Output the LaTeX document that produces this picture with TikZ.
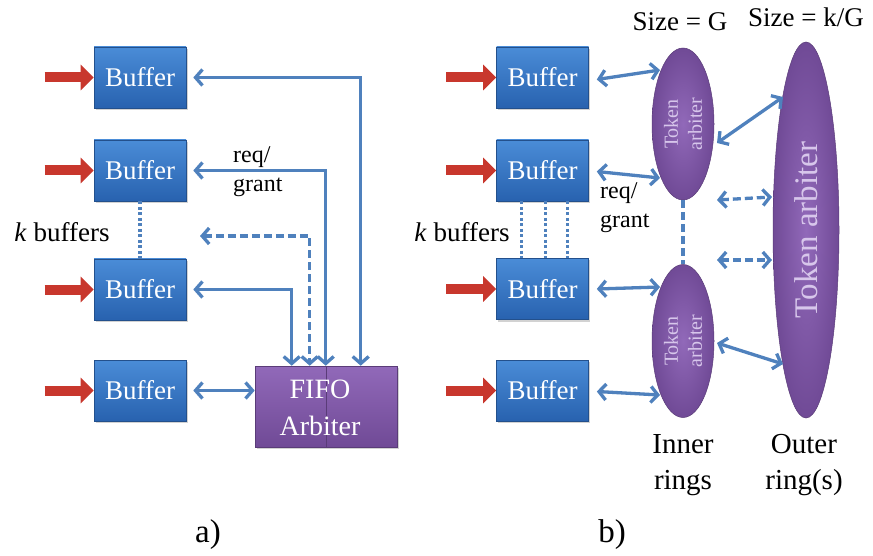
\documentclass[tikz,border=0pt]{standalone}
\usepackage{fontspec}
\setmainfont{Liberation Serif}
\usetikzlibrary{arrows.meta,calc,shapes.geometric,shadows}
\definecolor{bufblueL}{RGB}{74,140,215}
\definecolor{bufblueD}{RGB}{40,98,175}
\definecolor{bufedge}{RGB}{35,80,140}
\definecolor{linkblue}{RGB}{79,129,189}
\definecolor{arbL}{RGB}{145,105,185}
\definecolor{arbD}{RGB}{112,74,150}
\definecolor{arbedge}{RGB}{90,60,120}
\definecolor{inred}{RGB}{200,55,45}
\definecolor{tokentext}{RGB}{215,198,235}
\begin{document}
\begin{tikzpicture}[x=1pt,y=-1pt,
  buf/.style={draw=bufedge, line width=0.6pt, top color=bufblueL, bottom color=bufblueD,
    minimum width=92pt, minimum height=61pt, inner sep=0pt, text=white,
    font=\fontsize{27}{29}\selectfont,
    drop shadow={shadow xshift=1.5pt, shadow yshift=-2pt, opacity=0.35}},
  inarrow/.style={draw=inred, line width=10pt, -{Triangle[length=13pt,width=25pt]}},
  link/.style={draw=linkblue, line width=3.3pt,
    {Straight Barb[length=7pt,width=16pt]}-{Straight Barb[length=7pt,width=16pt]}},
  dlink/.style={link, dash pattern=on 8pt off 4pt},
  dots/.style={draw=linkblue, line width=3.3pt, dash pattern=on 3pt off 2.5pt},
  lbl/.style={text=black, inner sep=0pt},
  arb/.style={ellipse, draw=arbedge, line width=0.5pt, inner color=arbL, outer color=arbD,
    inner sep=0pt, rotate=90},
]
\useasboundingbox[fill=white] (0,0) rectangle (873,556);

% ---------- panel a ----------
\node[buf] (a1) at (140,77.5) {Buffer};
\node[buf] (a2) at (140,170.5) {Buffer};
\node[buf] (a3) at (140,289.5) {Buffer};
\node[buf] (a4) at (140,390.5) {Buffer};
\foreach \n in {a1,a2,a3,a4}{
  \draw[inarrow] ($(\n.west)+(-49,0)$) -- (\n.west);
}
\node[draw=arbedge, line width=0.6pt, top color=arbL, bottom color=arbD,
  minimum width=142pt, minimum height=81pt, inner sep=0pt,
  drop shadow={shadow xshift=1.5pt, shadow yshift=-2pt, opacity=0.35}] (fifo) at (326,406.5) {};
\draw[arbedge, line width=0.6pt] (fifo.north) -- (fifo.south);
\node[lbl, text=white, align=center, font=\fontsize{28}{37}\selectfont] (fifotxt) at (320,408) {FIFO\\Arbiter};

\draw[link] ([xshift=7pt]a1.east) -| ([xshift=106pt]fifo.north west);
\draw[link] ([xshift=7pt]a2.east) -| ([xshift=71pt]fifo.north west);
\coordinate (dfree) at (200,236);
\draw[dlink] (dfree) -| ([xshift=55pt]fifo.north west);
\draw[link] ([xshift=7pt]a3.east) -| ([xshift=37pt]fifo.north west);
\draw[link] ([xshift=7pt]a4.east) -- (a4.east -| fifo.west);
\draw[dots] (a2.south) -- (a3.north);

\node[lbl, anchor=west, font=\fontsize{24}{26}\selectfont] (rga1) at (233,157) {req/};
\node[lbl, anchor=west, font=\fontsize{24}{26}\selectfont] (rga2) at (233,187) {grant};
\node[lbl, font=\fontsize{27}{29}\selectfont] (kba) at (62,232) {\textit{k} buffers};
\node[lbl, font=\fontsize{33}{35}\selectfont] (capa) at (208,535) {a)};

% ---------- panel b ----------
\node[buf] (b1) at (542.5,77.5) {Buffer};
\node[buf] (b2) at (542.5,170.5) {Buffer};
\node[buf] (b3) at (542.5,289) {Buffer};
\node[buf] (b4) at (542.5,390.5) {Buffer};
\foreach \n in {b1,b2,b3,b4}{
  \draw[inarrow] ($(\n.west)+(-50,0)$) -- (\n.west);
}
\node[arb, minimum width=152pt, minimum height=62pt, text=tokentext, align=center,
  font=\fontsize{20}{24}\selectfont] (in1) at (683,124) {Token\\arbiter};
\node[arb, minimum width=153pt, minimum height=62pt, text=tokentext, align=center,
  font=\fontsize{20}{24}\selectfont] (in2) at (683,341) {Token\\arbiter};
\node[arb, minimum width=376pt, minimum height=66pt, text=tokentext,
  font=\fontsize{33}{35}\selectfont] (outer) at (806,230) {Token arbiter};

\draw[link] ($(b1.east)+(8,2)$) -- ($(in1.center)+(-23,-54)$);
\draw[link] ($(b2.east)+(8,1)$) -- ($(in1.center)+(-23,54)$);
\draw[link] ($(b3.east)+(8,0)$) -- ($(in2.center)+(-23,-54)$);
\draw[link] ($(b4.east)+(8,1)$) -- ($(in2.center)+(-23,54)$);
\draw[link] ($(in1.center)+(34,19)$) -- ($(outer.center)+(-23,-133)$);
\draw[link] ($(in2.center)+(34,2)$) -- ($(outer.center)+(-23,134)$);
\draw[dlink] ($(in1.center)+(34,76)$) -- ($(outer.center)+(-34,-33)$);
\draw[dlink] ($(in2.center)+(34,-81)$) -- ($(outer.center)+(-34,30)$);
\draw[dots, dash pattern=on 8pt off 4pt] (in1.west) -- (in2.east);
\foreach \dx in {-21,3,25}{
  \draw[dots] ([xshift=\dx pt]b2.south) -- ([xshift=\dx pt]b3.north);
}

\node[lbl, anchor=west, font=\fontsize{24}{26}\selectfont] (rgb1) at (600,193) {req/};
\node[lbl, anchor=west, font=\fontsize{24}{26}\selectfont] (rgb2) at (600,223) {grant};
\node[lbl, font=\fontsize{27}{29}\selectfont] (kbb) at (462,232) {\textit{k} buffers};
\node[lbl, font=\fontsize{27}{29}\selectfont] (szg) at (680,22) {Size = G};
\node[lbl, font=\fontsize{27}{29}\selectfont] (szk) at (806,17) {Size = k/G};
\node[lbl, align=center, font=\fontsize{29}{36}\selectfont] (inr) at (683,465) {Inner\\rings};
\node[lbl, align=center, font=\fontsize{29}{36}\selectfont] (otr) at (804,465) {Outer\\ring(s)};
\node[lbl, font=\fontsize{33}{35}\selectfont] (capb) at (612,535) {b)};
\end{tikzpicture}
\end{document}
